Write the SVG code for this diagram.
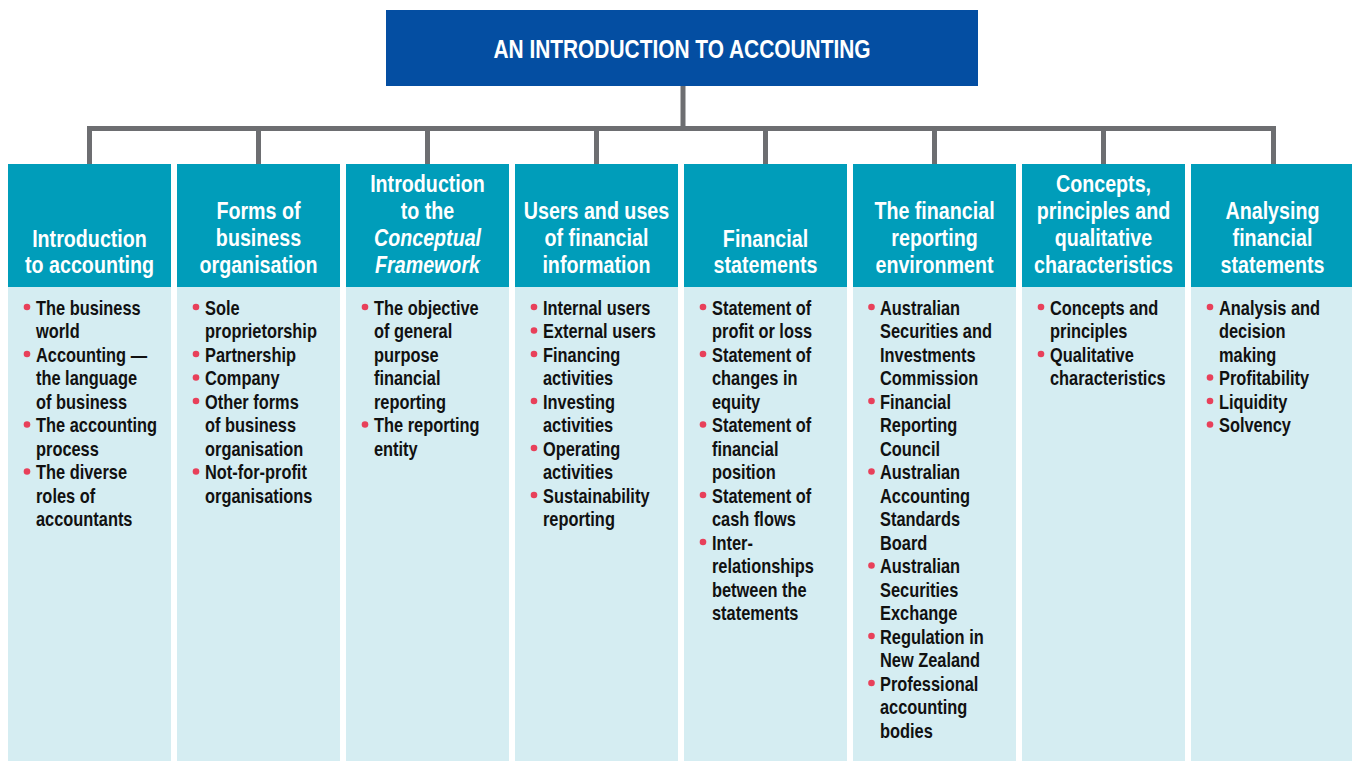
<svg xmlns="http://www.w3.org/2000/svg" width="1352" height="761" viewBox="0 0 1352 761">
  <style>
    .title-box { fill: #044ea2; }
    .title { fill: #ffffff; font-family: "Liberation Sans", Arial, sans-serif; font-weight: bold; font-size: 25.5px; text-anchor: middle; }
    .head { fill: #009dba; }
    .body { fill: #d5edf2; }
    .htext { fill: #ffffff; font-family: "Liberation Sans", Arial, sans-serif; font-weight: bold; font-size: 24px; text-anchor: middle; }
    .btext { fill: #111111; font-family: "Liberation Sans", Arial, sans-serif; font-weight: bold; font-size: 20px; }
    .bullet { fill: #e8405a; }
    .conn { fill: none; stroke: #6d6e71; stroke-width: 5; stroke-linejoin: miter; stroke-linecap: butt; }
  </style>

  <!-- connectors -->
  <g id="connectors">
    <path class="conn" d="M683,86 V128.5"/>
    <path class="conn" d="M89.5,164 V128.5 H1273.5 V164"/>
    <path class="conn" d="M258.5,128.5 V164 M427.5,128.5 V164 M596.5,128.5 V164 M765.5,128.5 V164 M934.5,128.5 V164 M1103.5,128.5 V164"/>
  </g>

  <g id="root">
    <rect class="title-box" x="386" y="10" width="592" height="76"/>
    <g transform="translate(682,0) scale(0.82,1)">
      <text class="title" x="0" y="58">AN INTRODUCTION TO ACCOUNTING</text>
    </g>
  </g>

  <!-- column 1 -->
  <g id="col-introduction">
    <rect class="head" x="8" y="164" width="163" height="123"/>
    <rect class="body" x="8" y="287" width="163" height="474"/>
    <g transform="translate(89.5,0) scale(0.82,1)">
      <text class="htext" y="247"><tspan x="0">Introduction</tspan><tspan x="0" dy="26.5">to accounting</tspan></text>
    </g>
    <circle class="bullet" cx="27" cy="307" r="3.3"/>
    <circle class="bullet" cx="27" cy="354" r="3.3"/>
    <circle class="bullet" cx="27" cy="424.5" r="3.3"/>
    <circle class="bullet" cx="27" cy="471.5" r="3.3"/>
    <g transform="translate(36,0) scale(0.82,1)">
      <text class="btext" y="315">
        <tspan x="0">The business</tspan><tspan x="0" dy="23.5">world</tspan>
        <tspan x="0" dy="23.5">Accounting —</tspan><tspan x="0" dy="23.5">the language</tspan><tspan x="0" dy="23.5">of business</tspan>
        <tspan x="0" dy="23.5">The accounting</tspan><tspan x="0" dy="23.5">process</tspan>
        <tspan x="0" dy="23.5">The diverse</tspan><tspan x="0" dy="23.5">roles of</tspan><tspan x="0" dy="23.5">accountants</tspan>
      </text>
    </g>
  </g>

  <!-- column 2 -->
  <g id="col-forms">
    <rect class="head" x="177" y="164" width="163" height="123"/>
    <rect class="body" x="177" y="287" width="163" height="474"/>
    <g transform="translate(258.5,0) scale(0.82,1)">
      <text class="htext" y="219.5"><tspan x="0">Forms of</tspan><tspan x="0" dy="27">business</tspan><tspan x="0" dy="26.5">organisation</tspan></text>
    </g>
    <circle class="bullet" cx="196" cy="307" r="3.3"/>
    <circle class="bullet" cx="196" cy="354" r="3.3"/>
    <circle class="bullet" cx="196" cy="377.5" r="3.3"/>
    <circle class="bullet" cx="196" cy="401" r="3.3"/>
    <circle class="bullet" cx="196" cy="471.5" r="3.3"/>
    <g transform="translate(205,0) scale(0.82,1)">
      <text class="btext" y="315">
        <tspan x="0">Sole</tspan><tspan x="0" dy="23.5">proprietorship</tspan>
        <tspan x="0" dy="23.5">Partnership</tspan>
        <tspan x="0" dy="23.5">Company</tspan>
        <tspan x="0" dy="23.5">Other forms</tspan><tspan x="0" dy="23.5">of business</tspan><tspan x="0" dy="23.5">organisation</tspan>
        <tspan x="0" dy="23.5">Not-for-profit</tspan><tspan x="0" dy="23.5">organisations</tspan>
      </text>
    </g>
  </g>

  <!-- column 3 -->
  <g id="col-framework">
    <rect class="head" x="346" y="164" width="163" height="123"/>
    <rect class="body" x="346" y="287" width="163" height="474"/>
    <g transform="translate(427.5,0) scale(0.82,1)">
      <text class="htext" y="192.5"><tspan x="0">Introduction</tspan><tspan x="0" dy="27">to the</tspan><tspan x="0" dy="27" font-style="italic">Conceptual</tspan><tspan x="0" dy="26.5" font-style="italic">Framework</tspan></text>
    </g>
    <circle class="bullet" cx="365" cy="307" r="3.3"/>
    <circle class="bullet" cx="365" cy="424.5" r="3.3"/>
    <g transform="translate(374,0) scale(0.82,1)">
      <text class="btext" y="315">
        <tspan x="0">The objective</tspan><tspan x="0" dy="23.5">of general</tspan><tspan x="0" dy="23.5">purpose</tspan><tspan x="0" dy="23.5">financial</tspan><tspan x="0" dy="23.5">reporting</tspan>
        <tspan x="0" dy="23.5">The reporting</tspan><tspan x="0" dy="23.5">entity</tspan>
      </text>
    </g>
  </g>

  <!-- column 4 -->
  <g id="col-users">
    <rect class="head" x="515" y="164" width="163" height="123"/>
    <rect class="body" x="515" y="287" width="163" height="474"/>
    <g transform="translate(596.5,0) scale(0.82,1)">
      <text class="htext" y="219.5"><tspan x="0">Users and uses</tspan><tspan x="0" dy="27">of financial</tspan><tspan x="0" dy="26.5">information</tspan></text>
    </g>
    <circle class="bullet" cx="534" cy="307" r="3.3"/>
    <circle class="bullet" cx="534" cy="330.5" r="3.3"/>
    <circle class="bullet" cx="534" cy="354" r="3.3"/>
    <circle class="bullet" cx="534" cy="401" r="3.3"/>
    <circle class="bullet" cx="534" cy="448" r="3.3"/>
    <circle class="bullet" cx="534" cy="495" r="3.3"/>
    <g transform="translate(543,0) scale(0.82,1)">
      <text class="btext" y="315">
        <tspan x="0">Internal users</tspan>
        <tspan x="0" dy="23.5">External users</tspan>
        <tspan x="0" dy="23.5">Financing</tspan><tspan x="0" dy="23.5">activities</tspan>
        <tspan x="0" dy="23.5">Investing</tspan><tspan x="0" dy="23.5">activities</tspan>
        <tspan x="0" dy="23.5">Operating</tspan><tspan x="0" dy="23.5">activities</tspan>
        <tspan x="0" dy="23.5">Sustainability</tspan><tspan x="0" dy="23.5">reporting</tspan>
      </text>
    </g>
  </g>

  <!-- column 5 -->
  <g id="col-statements">
    <rect class="head" x="684" y="164" width="163" height="123"/>
    <rect class="body" x="684" y="287" width="163" height="474"/>
    <g transform="translate(765.5,0) scale(0.82,1)">
      <text class="htext" y="247"><tspan x="0">Financial</tspan><tspan x="0" dy="26.5">statements</tspan></text>
    </g>
    <circle class="bullet" cx="703" cy="307" r="3.3"/>
    <circle class="bullet" cx="703" cy="354" r="3.3"/>
    <circle class="bullet" cx="703" cy="424.5" r="3.3"/>
    <circle class="bullet" cx="703" cy="495" r="3.3"/>
    <circle class="bullet" cx="703" cy="542" r="3.3"/>
    <g transform="translate(712,0) scale(0.82,1)">
      <text class="btext" y="315">
        <tspan x="0">Statement of</tspan><tspan x="0" dy="23.5">profit or loss</tspan>
        <tspan x="0" dy="23.5">Statement of</tspan><tspan x="0" dy="23.5">changes in</tspan><tspan x="0" dy="23.5">equity</tspan>
        <tspan x="0" dy="23.5">Statement of</tspan><tspan x="0" dy="23.5">financial</tspan><tspan x="0" dy="23.5">position</tspan>
        <tspan x="0" dy="23.5">Statement of</tspan><tspan x="0" dy="23.5">cash flows</tspan>
        <tspan x="0" dy="23.5">Inter-</tspan><tspan x="0" dy="23.5">relationships</tspan><tspan x="0" dy="23.5">between the</tspan><tspan x="0" dy="23.5">statements</tspan>
      </text>
    </g>
  </g>

  <!-- column 6 -->
  <g id="col-environment">
    <rect class="head" x="853" y="164" width="163" height="123"/>
    <rect class="body" x="853" y="287" width="163" height="474"/>
    <g transform="translate(934.5,0) scale(0.82,1)">
      <text class="htext" y="219.5"><tspan x="0">The financial</tspan><tspan x="0" dy="27">reporting</tspan><tspan x="0" dy="26.5">environment</tspan></text>
    </g>
    <circle class="bullet" cx="871.5" cy="307" r="3.3"/>
    <circle class="bullet" cx="871.5" cy="401" r="3.3"/>
    <circle class="bullet" cx="871.5" cy="471.5" r="3.3"/>
    <circle class="bullet" cx="871.5" cy="565.5" r="3.3"/>
    <circle class="bullet" cx="871.5" cy="636" r="3.3"/>
    <circle class="bullet" cx="871.5" cy="683" r="3.3"/>
    <g transform="translate(880,0) scale(0.82,1)">
      <text class="btext" y="315">
        <tspan x="0">Australian</tspan><tspan x="0" dy="23.5">Securities and</tspan><tspan x="0" dy="23.5">Investments</tspan><tspan x="0" dy="23.5">Commission</tspan>
        <tspan x="0" dy="23.5">Financial</tspan><tspan x="0" dy="23.5">Reporting</tspan><tspan x="0" dy="23.5">Council</tspan>
        <tspan x="0" dy="23.5">Australian</tspan><tspan x="0" dy="23.5">Accounting</tspan><tspan x="0" dy="23.5">Standards</tspan><tspan x="0" dy="23.5">Board</tspan>
        <tspan x="0" dy="23.5">Australian</tspan><tspan x="0" dy="23.5">Securities</tspan><tspan x="0" dy="23.5">Exchange</tspan>
        <tspan x="0" dy="23.5">Regulation in</tspan><tspan x="0" dy="23.5">New Zealand</tspan>
        <tspan x="0" dy="23.5">Professional</tspan><tspan x="0" dy="23.5">accounting</tspan><tspan x="0" dy="23.5">bodies</tspan>
      </text>
    </g>
  </g>

  <!-- column 7 -->
  <g id="col-concepts">
    <rect class="head" x="1022" y="164" width="163" height="123"/>
    <rect class="body" x="1022" y="287" width="163" height="474"/>
    <g transform="translate(1103.5,0) scale(0.82,1)">
      <text class="htext" y="192.5"><tspan x="0">Concepts,</tspan><tspan x="0" dy="27">principles and</tspan><tspan x="0" dy="27">qualitative</tspan><tspan x="0" dy="26.5">characteristics</tspan></text>
    </g>
    <circle class="bullet" cx="1041" cy="307" r="3.3"/>
    <circle class="bullet" cx="1041" cy="354" r="3.3"/>
    <g transform="translate(1050,0) scale(0.82,1)">
      <text class="btext" y="315">
        <tspan x="0">Concepts and</tspan><tspan x="0" dy="23.5">principles</tspan>
        <tspan x="0" dy="23.5">Qualitative</tspan><tspan x="0" dy="23.5">characteristics</tspan>
      </text>
    </g>
  </g>

  <!-- column 8 -->
  <g id="col-analysing">
    <rect class="head" x="1191" y="164" width="163" height="123"/>
    <rect class="body" x="1191" y="287" width="163" height="474"/>
    <g transform="translate(1272.5,0) scale(0.82,1)">
      <text class="htext" y="219.5"><tspan x="0">Analysing</tspan><tspan x="0" dy="27">financial</tspan><tspan x="0" dy="26.5">statements</tspan></text>
    </g>
    <circle class="bullet" cx="1210" cy="307" r="3.3"/>
    <circle class="bullet" cx="1210" cy="377.5" r="3.3"/>
    <circle class="bullet" cx="1210" cy="401" r="3.3"/>
    <circle class="bullet" cx="1210" cy="424.5" r="3.3"/>
    <g transform="translate(1219,0) scale(0.82,1)">
      <text class="btext" y="315">
        <tspan x="0">Analysis and</tspan><tspan x="0" dy="23.5">decision</tspan><tspan x="0" dy="23.5">making</tspan>
        <tspan x="0" dy="23.5">Profitability</tspan>
        <tspan x="0" dy="23.5">Liquidity</tspan>
        <tspan x="0" dy="23.5">Solvency</tspan>
      </text>
    </g>
  </g>
</svg>
